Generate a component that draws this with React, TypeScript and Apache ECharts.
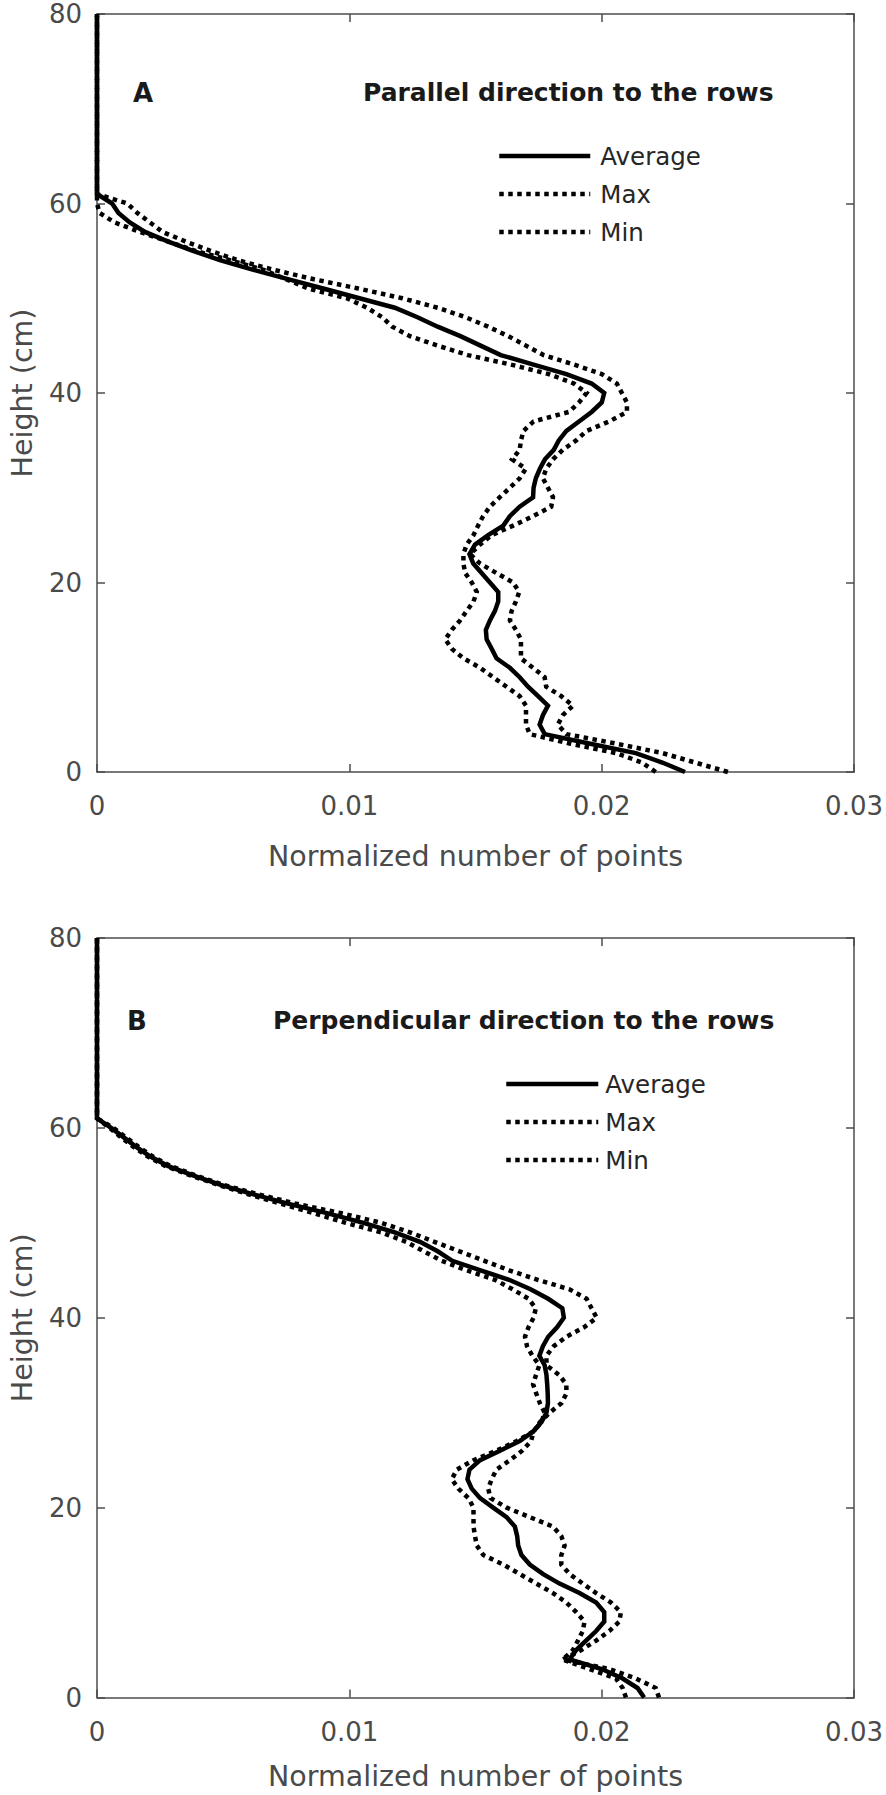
import React, { useEffect, useRef } from "react";
import * as echarts from "echarts";

// Heights (cm) at which the profiles are sampled
const heights = [
  0, 1, 2, 3, 4, 5, 6, 7, 8, 9, 10, 11, 12, 13, 14, 15, 16, 17, 18, 19, 20,
  21, 22, 23, 24, 25, 26, 27, 28, 29, 30, 31, 32, 33, 34, 35, 36, 37, 38, 39, 40,
  41, 42, 43, 44, 45, 46, 47, 48, 49, 50, 51, 52, 53, 54, 55, 56, 57, 58, 59, 60,
  61, 80,
];

// Panel A: parallel direction to the rows
const avgA = [
  0.0233, 0.0224, 0.02135, 0.0195, 0.01774, 0.01754, 0.01767, 0.01787, 0.01748, 0.01708, 0.01675,
  0.01636, 0.01583, 0.01564, 0.01544, 0.01541, 0.01557, 0.01577, 0.0159, 0.0159, 0.01557,
  0.01524, 0.01491, 0.01476, 0.01498, 0.0155, 0.0161, 0.01636, 0.01675, 0.01728, 0.0173,
  0.01739, 0.01755, 0.01775, 0.0181, 0.0183, 0.0186, 0.0191, 0.0196, 0.02, 0.0201,
  0.0196, 0.0186, 0.0173, 0.016, 0.0152, 0.0144, 0.0135, 0.0127, 0.0118, 0.0104,
  0.009, 0.0076, 0.0062, 0.0049, 0.0038, 0.0028, 0.0019, 0.0013, 0.00085, 0.0006,
  0, 0,
];
const maxA = [
  0.025, 0.0237, 0.0224, 0.02056, 0.0186, 0.01826, 0.01846, 0.01886, 0.0184, 0.0178, 0.01774,
  0.01728, 0.0168, 0.0168, 0.0168, 0.0166, 0.01636, 0.01643, 0.0166, 0.01673, 0.01649,
  0.01583, 0.01518, 0.01478, 0.01518, 0.01564, 0.01649, 0.01728, 0.018, 0.01807, 0.01787,
  0.01767, 0.0178, 0.01807, 0.01846, 0.01899, 0.0194, 0.0203, 0.021, 0.021, 0.0208,
  0.0206, 0.02, 0.0189, 0.0177, 0.017, 0.0163, 0.0155, 0.0146, 0.0135, 0.0121,
  0.0104, 0.0086, 0.007, 0.0056, 0.0045, 0.0035, 0.0026, 0.0021, 0.0016, 0.0012,
  0, 0,
];
const minA = [
  0.02214, 0.0216, 0.02056, 0.01873, 0.01715, 0.017, 0.017, 0.017, 0.01675, 0.01623, 0.0157,
  0.01518, 0.01452, 0.01406, 0.0138, 0.01406, 0.01439, 0.01465, 0.01492, 0.01505, 0.01485,
  0.01459, 0.01452, 0.01452, 0.01465, 0.01492, 0.0151, 0.0153, 0.01557, 0.01596, 0.01636,
  0.01675, 0.01699, 0.01645, 0.01675, 0.0168, 0.0169, 0.0173, 0.0187, 0.0191, 0.0194,
  0.0189, 0.0179, 0.0164, 0.0147, 0.0135, 0.0124, 0.0117, 0.0113, 0.0107, 0.0099,
  0.0084, 0.0075, 0.0066, 0.0053, 0.0039, 0.0028, 0.0017, 0.0007, 0.0001, 0,
  0, 0,
];

// Panel B: perpendicular direction to the rows
const avgB = [
  0.02168, 0.02142, 0.02083, 0.02, 0.01873, 0.01899, 0.01938, 0.01978, 0.0201, 0.0201, 0.01978,
  0.01912, 0.01833, 0.01768, 0.01715, 0.01682, 0.01669, 0.01665, 0.01656, 0.01623, 0.0157,
  0.01518, 0.01485, 0.01468, 0.01476, 0.01518, 0.01597, 0.01675, 0.01728, 0.01761, 0.01781,
  0.01787, 0.01786, 0.01784, 0.01781, 0.01774, 0.01753, 0.01767, 0.01788, 0.01823, 0.0185,
  0.01844, 0.01788, 0.01718, 0.01633, 0.0152, 0.01408, 0.0135, 0.0128, 0.0118, 0.01056,
  0.00915, 0.0076, 0.0062, 0.0049, 0.0038, 0.0028, 0.0021, 0.00155, 0.00106, 0.00056,
  0, 0,
];
const maxB = [
  0.02227, 0.02214, 0.02135, 0.0203, 0.01846, 0.01919, 0.01978, 0.0203, 0.0207, 0.02076, 0.02037,
  0.01978, 0.01925, 0.01873, 0.0184, 0.0184, 0.01853, 0.0184, 0.01807, 0.01715, 0.01623,
  0.0156, 0.0155, 0.01564, 0.01583, 0.01636, 0.01685, 0.0172, 0.0173, 0.01755, 0.01794,
  0.0184, 0.0186, 0.0186, 0.0183, 0.01781, 0.01781, 0.0181, 0.0186, 0.0193, 0.0198,
  0.0196, 0.0194, 0.01872, 0.01746, 0.01633, 0.01535, 0.01436, 0.01337, 0.0124, 0.01126,
  0.0097, 0.0079, 0.0064, 0.005, 0.0039, 0.0029, 0.0022, 0.00165, 0.00115, 0.00065,
  0, 0,
];
const minB = [
  0.02096, 0.02083, 0.02056, 0.01951, 0.01846, 0.01886, 0.01906, 0.01925, 0.01932, 0.01899, 0.0186,
  0.01807, 0.01741, 0.01675, 0.0161, 0.01531, 0.01505, 0.01498, 0.01492, 0.01492, 0.01492,
  0.01472, 0.01432, 0.01406, 0.01426, 0.01492, 0.01583, 0.01662, 0.01728, 0.01761, 0.01774,
  0.01755, 0.01741, 0.01728, 0.0174, 0.01753, 0.01725, 0.01704, 0.01696, 0.0171, 0.0173,
  0.01739, 0.0171, 0.01647, 0.01577, 0.01464, 0.01366, 0.01295, 0.01225, 0.01126, 0.00986,
  0.0086, 0.0073, 0.006, 0.0048, 0.0037, 0.0027, 0.002, 0.00145, 0.00095, 0.0005,
  0, 0,
];

const xTicks = [0, 0.01, 0.02, 0.03];
const xTickLabels = ["0", "0.01", "0.02", "0.03"];
const yTicks = [0, 20, 40, 60, 80];
const seriesNames = ["Average", "Max", "Min"];
const panelLetters = ["A", "B"];
const panelTitles = ["Parallel direction to the rows", "Perpendicular direction to the rows"];
const xAxisName = "Normalized number of points";
const yAxisName = "Height (cm)";

const FONT = "DejaVu Sans";
const AXIS_COLOR = "#4d4d4d";
const LABEL_COLOR = "#4a4a4a";
const LINE_W = 4.5;
const DOTS = [4.5, 4.5];

function toPoints(values: number[]) {
  return heights.map((h, i) => [values[i], h]);
}

function xLabel(v: number) {
  let best = 0;
  for (let i = 0; i < xTicks.length; i++) {
    if (Math.abs(xTicks[i] - v) < Math.abs(xTicks[best] - v)) best = i;
  }
  return xTickLabels[best];
}

export default function App() {
  const ref = useRef<HTMLDivElement>(null);

  useEffect(() => {
    if (!ref.current) return;
    const chart = echarts.init(ref.current, undefined, { renderer: "svg" });

    const grids = [
      { left: 95, top: 14, width: 761, height: 758 },
      { left: 95, top: 938, width: 761, height: 759.5 },
    ];
    const xNameGaps = [70, 64];

    const axisLine = { show: true, onZero: false, lineStyle: { color: AXIS_COLOR, width: 1.5 } };
    const axisTick = { show: true, inside: true, length: 8, lineStyle: { color: AXIS_COLOR, width: 1.5 } };

    const xAxes: any[] = [];
    const yAxes: any[] = [];
    grids.forEach((_, g) => {
      xAxes.push({
        gridIndex: g,
        type: "value",
        position: "bottom",
        min: xTicks[0],
        max: xTicks[xTicks.length - 1],
        interval: 0.01,
        axisLine,
        axisTick,
        splitLine: { show: false },
        axisLabel: {
          show: true,
          margin: 21,
          fontFamily: FONT,
          fontSize: 26,
          color: LABEL_COLOR,
          formatter: (v: number) => xLabel(v),
        },
        name: xAxisName,
        nameLocation: "middle",
        nameGap: xNameGaps[g],
        nameTextStyle: { fontFamily: FONT, fontSize: 28.5, color: LABEL_COLOR },
      });
      xAxes.push({
        gridIndex: g,
        type: "value",
        position: "top",
        min: xTicks[0],
        max: xTicks[xTicks.length - 1],
        interval: 0.01,
        axisLine,
        axisTick,
        splitLine: { show: false },
        axisLabel: { show: false },
      });
      yAxes.push({
        gridIndex: g,
        type: "value",
        position: "left",
        min: yTicks[0],
        max: yTicks[yTicks.length - 1],
        interval: 20,
        axisLine,
        axisTick,
        splitLine: { show: false },
        axisLabel: { show: true, margin: 15, fontFamily: FONT, fontSize: 26, color: LABEL_COLOR },
        name: yAxisName,
        nameLocation: "middle",
        nameGap: 60,
        nameTextStyle: { fontFamily: FONT, fontSize: 28.5, color: LABEL_COLOR },
      });
      yAxes.push({
        gridIndex: g,
        type: "value",
        position: "right",
        min: yTicks[0],
        max: yTicks[yTicks.length - 1],
        interval: 20,
        axisLine,
        axisTick,
        splitLine: { show: false },
        axisLabel: { show: false },
      });
    });

    const panels = [
      [avgA, maxA, minA],
      [avgB, maxB, minB],
    ];
    const series: any[] = [];
    panels.forEach((vals, g) => {
      vals.forEach((arr, k) => {
        series.push({
          name: seriesNames[k],
          type: "line",
          xAxisIndex: 2 * g,
          yAxisIndex: 2 * g,
          data: toPoints(arr),
          symbol: "none",
          showSymbol: false,
          clip: false,
          z: k === 0 ? 3 : 2,
          lineStyle: {
            color: "#000",
            width: LINE_W,
            type: k === 0 ? "solid" : DOTS,
            cap: "butt",
            join: "miter",
          },
          itemStyle: { color: "#000" },
        });
      });
    });

    const legendData = seriesNames.map((name, k) => ({
      name,
      itemStyle: { opacity: 0 },
      lineStyle: { width: LINE_W, color: "#000", type: k === 0 ? "solid" : DOTS, opacity: 1 },
    }));

    const legendBase = {
      data: legendData,
      orient: "vertical",
      itemHeight: 14,
      itemGap: 13,
      selectedMode: false,
      padding: 0,
    };
    const legendText = {
      fontFamily: FONT,
      fontSize: 24.5,
      lineHeight: 25,
      color: "#262626",
    };

    const titleStyle = {
      fontFamily: FONT,
      fontWeight: "bold",
      fontSize: 25,
      lineHeight: 30,
      color: "#1a1a1a",
    };

    chart.setOption({
      animation: false,
      backgroundColor: "#ffffff",
      grid: grids.map((g) => ({ ...g, containLabel: false })),
      xAxis: xAxes,
      yAxis: yAxes,
      series,
      legend: [
        { ...legendBase, left: 497, top: 143.5, itemWidth: 91, textStyle: { ...legendText, padding: [0, 0, 0, 5] } },
        { ...legendBase, left: 504, top: 1071.5, itemWidth: 92, textStyle: { ...legendText, padding: [0, 0, 0, 2] } },
      ],
      title: [
        { text: panelLetters[0], left: 133, top: 78, padding: 0, textStyle: { ...titleStyle, fontSize: 26 } },
        { text: panelTitles[0], left: 363, top: 77, padding: 0, textStyle: titleStyle },
        { text: panelLetters[1], left: 127, top: 1006, padding: 0, textStyle: { ...titleStyle, fontSize: 26 } },
        { text: panelTitles[1], left: 273, top: 1005, padding: 0, textStyle: titleStyle },
      ],
    });

    return () => chart.dispose();
  }, []);

  return (
    <div
      ref={ref}
      style={{ position: "absolute", left: 0, top: 0, width: 886, height: 1795, background: "#fff" }}
    />
  );
}
